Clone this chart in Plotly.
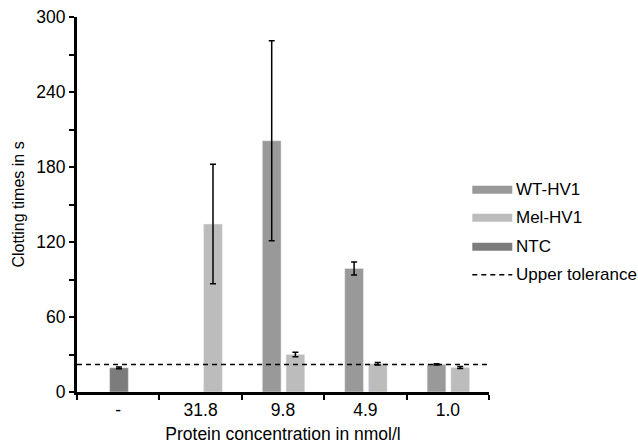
import plotly.graph_objects as go

categories = ["-", "31.8", "9.8", "4.9", "1.0"]
wt_hv1 = [None, None, 201.0, 98.8, 22.1]
wt_hv1_err = [0, 0, 80.0, 5.2, 0.5]
mel_hv1 = [None, 134.4, 30.0, 22.6, 19.7]
mel_hv1_err = [0, 47.8, 1.8, 1.0, 0.8]
ntc = [19.4, None, None, None, None]
ntc_err = [0.7, 0, 0, 0, 0]
upper_tolerance = 22.0

y_tickvals = list(range(0, 301, 30))
y_ticktext = [str(v) if v % 60 == 0 else "" for v in y_tickvals]

FONT = "Arial, Liberation Sans, sans-serif"
C_WT = "#999999"
C_MEL = "#bcbcbc"
C_NTC = "#7c7c7c"

W = 0.227
err_style = dict(type="data", visible=True, color="black", thickness=1.5, width=3)

fig = go.Figure()
fig.add_trace(go.Bar(x=categories, y=wt_hv1, name="WT-HV1", marker_color=C_WT,
                     width=W, offset=-0.2506, showlegend=False,
                     error_y=dict(array=wt_hv1_err, **err_style)))
fig.add_trace(go.Bar(x=categories, y=mel_hv1, name="Mel-HV1", marker_color=C_MEL,
                     width=W, offset=0.037, showlegend=False,
                     error_y=dict(array=mel_hv1_err, **err_style)))
fig.add_trace(go.Bar(x=categories, y=ntc, name="NTC", marker_color=C_NTC,
                     width=W, offset=-0.104, showlegend=False,
                     error_y=dict(array=ntc_err, **err_style)))

# custom legend (layout decoration)
L = 412.0
H = 375.5
def px2x(px):
    return (px - 76.7) / L
def px2y(py):
    return (392.5 - py) / H

legend_items = [("WT-HV1", C_WT, 190), ("Mel-HV1", C_MEL, 218), ("NTC", C_NTC, 247)]
shapes = []
annotations = []
for name, col, yc in legend_items:
    shapes.append(dict(type="rect", xref="paper", yref="paper",
                       x0=px2x(472), x1=px2x(512), y0=px2y(yc + 4), y1=px2y(yc - 4),
                       fillcolor=col, line=dict(width=0)))
    annotations.append(dict(text=name, xref="paper", yref="paper", x=px2x(514), y=px2y(yc),
                            xanchor="left", yanchor="middle", showarrow=False,
                            font=dict(family=FONT, size=17, color="black")))
shapes.append(dict(type="line", xref="paper", yref="paper", x0=px2x(472), x1=px2x(512),
                   y0=px2y(275), y1=px2y(275), line=dict(color="black", width=1.5, dash="5px,4px")))
annotations.append(dict(text="Upper tolerance", xref="paper", yref="paper", x=px2x(514), y=px2y(275),
                        xanchor="left", yanchor="middle", showarrow=False,
                        font=dict(family=FONT, size=17, color="black")))

fig.update_layout(
    width=638, height=447,
    margin=dict(l=77, r=149, t=17, b=55),
    paper_bgcolor="white", plot_bgcolor="white",
    barmode="overlay",
    font=dict(family=FONT, size=17.5, color="black"),
    shapes=shapes, annotations=annotations,
    showlegend=False,
)
fig.add_hline(y=upper_tolerance, line=dict(color="black", width=1.5, dash="5px,4px"))
fig.update_xaxes(type="category", range=[-0.5, 4.5], showline=True, linecolor="black", linewidth=3,
                 ticks="outside", tickson="boundaries", ticklen=5, tickwidth=2, tickcolor="black",
                 showgrid=False, zeroline=False, automargin=False,
                 title=dict(text="Protein concentration in nmol/l", font=dict(size=17.5), standoff=9))
fig.update_yaxes(range=[0, 300], showline=True, linecolor="black", linewidth=3,
                 tickmode="array", tickvals=y_tickvals, ticktext=y_ticktext,
                 ticks="outside", ticklen=5, tickwidth=2, tickcolor="black",
                 showgrid=False, zeroline=False, automargin=False,
                 title=dict(text="Clotting times in s", font=dict(size=16), standoff=8))

fig.write_html("out.html")
